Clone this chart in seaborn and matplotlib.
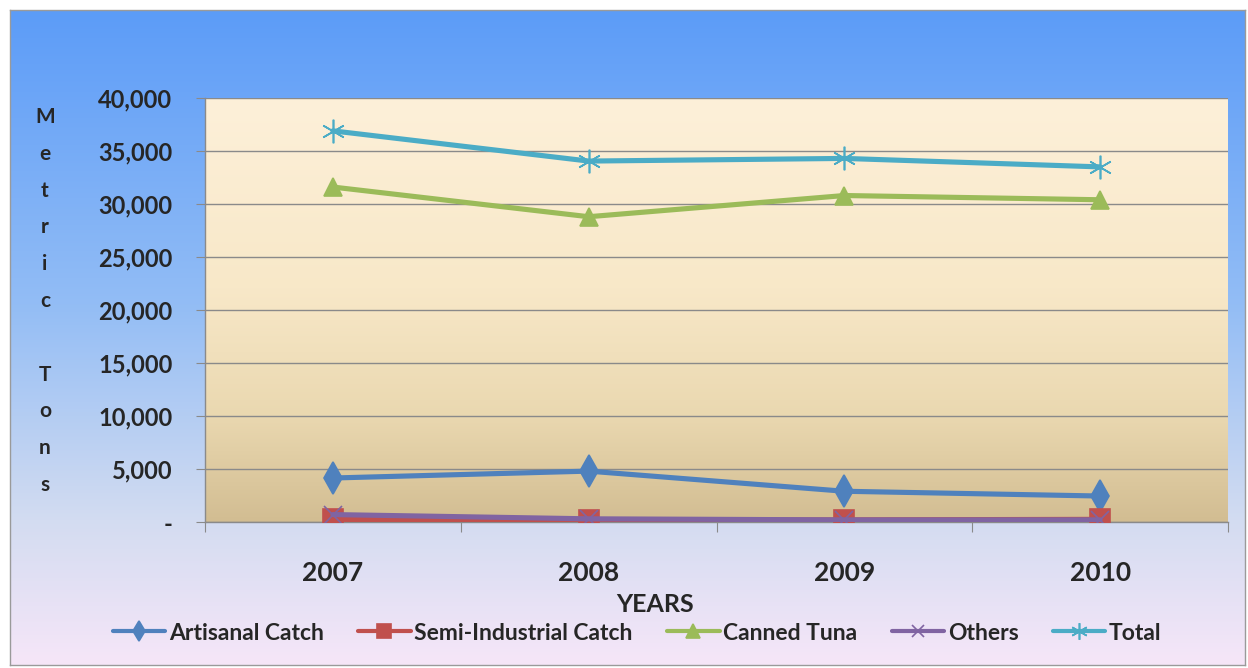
import numpy as np
import pandas as pd
import matplotlib
matplotlib.use("Agg")
import matplotlib.pyplot as plt
from matplotlib.colors import LinearSegmentedColormap
from matplotlib.ticker import FuncFormatter
import seaborn as sns

# Data (metric tons)
years = ["2007", "2008", "2009", "2010"]
artisanal = [4150, 4800, 2900, 2450]
semi_industrial = [250, 150, 200, 250]
canned_tuna = [31600, 28800, 30800, 30400]
others = [700, 300, 200, 200]
total = [36900, 34050, 34300, 33500]

series_names = ["Artisanal Catch", "Semi-Industrial Catch", "Canned Tuna", "Others", "Total"]
series_values = [artisanal, semi_industrial, canned_tuna, others, total]
colors = ["#4f81bd", "#c0504d", "#9bbb59", "#8064a2", "#4bacc6"]
markers = ["d", "s", "^", "x", (6, 2, 0)]
marker_sizes = [16, 14, 13, 13, 17]
legend_sizes = [10, 10, 10, 9, 12]

rows = []
for name, vals in zip(series_names, series_values):
    for y, v in zip(years, vals):
        rows.append({"Year": y, "Tons": v, "Series": name})
df = pd.DataFrame(rows)

sns.set_style("white")
plt.rcParams["font.family"] = ["Lato", "DejaVu Sans"]

W, H = 1248, 668
fig = plt.figure(figsize=(W / 100, H / 100), dpi=100)
fig.patch.set_facecolor("white")

# outer gradient panel
bg = fig.add_axes([10 / W, 3 / H, (1245 - 10) / W, (665 - 10) / H])
bg_cmap = LinearSegmentedColormap.from_list(
    "bg", [(0, "#5c9cf8"), (0.45, "#93bdf5"), (0.78, "#d3dcf1"), (1, "#f6e6f8")])
bg.imshow(np.linspace(0, 1, 256).reshape(-1, 1), aspect="auto", cmap=bg_cmap,
          extent=[0, 1, 0, 1], origin="upper")
bg.set_xticks([])
bg.set_yticks([])
for s in bg.spines.values():
    s.set_color("#9a9a9a")
    s.set_linewidth(1)

ax = fig.add_axes([205 / W, 1 - 522 / H, (1228 - 205) / W, (522 - 98) / H])
ax.set_facecolor("none")

# plot-area gradient
pa_cmap = LinearSegmentedColormap.from_list(
    "pa", [(0, "#fdf0d9"), (0.45, "#f8e8c8"), (0.75, "#ead8b0"), (1, "#d2bd92")])
ax.imshow(np.linspace(0, 1, 256).reshape(-1, 1), aspect="auto", cmap=pa_cmap,
          extent=[-0.5, 3.5, 0, 40000], origin="upper", zorder=0)

for name, col, mk, ms in zip(series_names, colors, markers, marker_sizes):
    sub = df[df["Series"] == name]
    sns.lineplot(data=sub, x="Year", y="Tons", ax=ax, color=col, marker=mk,
                 markersize=ms, linewidth=3.7, markeredgecolor=col,
                 markeredgewidth=1.2, label=name, zorder=3)

ax.set_xlim(-0.5, 3.5)
ax.set_ylim(0, 40000)
ax.set_yticks(range(0, 40001, 5000))
ax.yaxis.set_major_formatter(FuncFormatter(lambda v, p: "-" if v == 0 else f"{int(v):,}"))
ax.grid(axis="y", color="#8a8a8a", linewidth=1)
for gl in ax.get_ygridlines():
    gl.set_zorder(1)

ax.set_xticks([-0.5, 0.5, 1.5, 2.5, 3.5])
ax.set_xticklabels([])
ax.set_xticks(range(len(years)), minor=True)
ax.set_xticklabels(years, minor=True, fontsize=19, fontweight="bold")
ax.tick_params(axis="x", which="major", length=7, color="#8a8a8a", direction="out", bottom=True)
ax.tick_params(axis="x", which="minor", length=0, pad=28)
ax.tick_params(axis="y", length=6.5, color="#8a8a8a", direction="out", left=True, pad=17,
               labelsize=17)
for lab in ax.get_yticklabels():
    lab.set_fontweight("bold")

for side in ["top", "right"]:
    ax.spines[side].set_visible(False)
for side in ["left", "bottom"]:
    ax.spines[side].set_color("#8a8a8a")
    ax.spines[side].set_linewidth(1)

ax.set_xlabel("")
ax.set_ylabel("")

fig.text(45 / W, 1 - 107 / H, "M\ne\nt\nr\ni\nc\n\nT\no\nn\ns", ha="center", va="top",
         fontsize=15, fontweight="bold", linespacing=2.05)
fig.text(655 / W, 1 - 604 / H, "YEARS", ha="center", va="center", fontsize=18,
         fontweight="bold")

leg = ax.legend(loc="center", bbox_to_anchor=(637 / W, 1 - 633 / H),
                bbox_transform=fig.transFigure, ncol=5, frameon=False,
                fontsize=16.5, handlelength=2.3, handletextpad=0.15, columnspacing=1.5)
for t in leg.get_texts():
    t.set_fontweight("bold")
for h, s in zip(leg.legend_handles, legend_sizes):
    h.set_linewidth(3)
    h.set_markersize(s)

fig.savefig("out.png", dpi=100)
